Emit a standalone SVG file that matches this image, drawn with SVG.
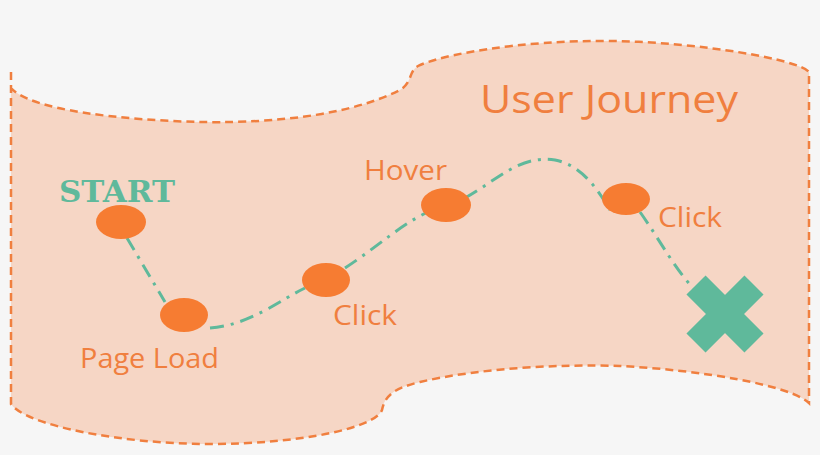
<svg xmlns="http://www.w3.org/2000/svg" width="820" height="455" viewBox="0 0 820 455">
<style>
.node{fill:#f67c32}
.lbl{fill:#f07f3f;font-family:"Open Sans",sans-serif;font-size:27px}
.conn{fill:none;stroke:#5fb99b;stroke-width:3;stroke-dasharray:14 7 3 7}
</style>
<rect width="820" height="455" fill="#f6f6f6"/>
<path d="M11,72 L11,404 C25,425 120,444 210,444 C300,444 375,428 382,410 C385,395 395,388 420,382 C480,368 560,364 620,366 C700,370 790,385 809,403 L809,72 C800,60 700,42 610,41 C520,40 440,55 418,66 C408,72 413,82 400,90 C340,120 250,123 200,122 C120,120 30,110 11,88" fill="#f6d6c5" stroke="#f07f3f" stroke-width="2.5" stroke-dasharray="8 5"/>
<text x="480" y="113" style="fill:#f07f3f;font-family:'Open Sans',sans-serif;font-size:38px" textLength="258" lengthAdjust="spacingAndGlyphs">User Journey</text>
<g id="connectors">
<path class="conn" d="M127,238 L165,302"/>
<path class="conn" d="M210,328 C250,325 280,300 305,288"/>
<path class="conn" d="M345,268 C380,245 400,225 428,212"/>
<path class="conn" d="M465,198 C500,178 520,155 555,160 C580,165 595,185 610,210"/>
<path class="conn" d="M640,212 C660,240 675,270 697,292"/>
</g>
<g id="start"><text x="59" y="202" style="fill:#5fb99b;font-family:'DejaVu Serif',serif;font-weight:bold;font-size:30px" textLength="116" lengthAdjust="spacingAndGlyphs">START</text><ellipse class="node" cx="121" cy="222" rx="25" ry="17"/></g>
<g id="pageload"><ellipse class="node" cx="184" cy="315" rx="24" ry="17"/><text class="lbl" x="80" y="368" textLength="139" lengthAdjust="spacingAndGlyphs">Page Load</text></g>
<g id="click1"><ellipse class="node" cx="326" cy="280" rx="24" ry="17"/><text class="lbl" x="333" y="325" textLength="64" lengthAdjust="spacingAndGlyphs">Click</text></g>
<g id="hover"><ellipse class="node" cx="446" cy="205" rx="25" ry="17"/><text class="lbl" x="364" y="180" textLength="83" lengthAdjust="spacingAndGlyphs">Hover</text></g>
<g id="click2"><ellipse class="node" cx="626" cy="199" rx="24" ry="16"/><text class="lbl" x="658" y="227" textLength="64" lengthAdjust="spacingAndGlyphs">Click</text></g>
<g id="end" stroke="#5fb99b" stroke-width="27"><line x1="696" y1="285" x2="754" y2="343"/><line x1="754" y1="285" x2="696" y2="343"/></g>
</svg>
